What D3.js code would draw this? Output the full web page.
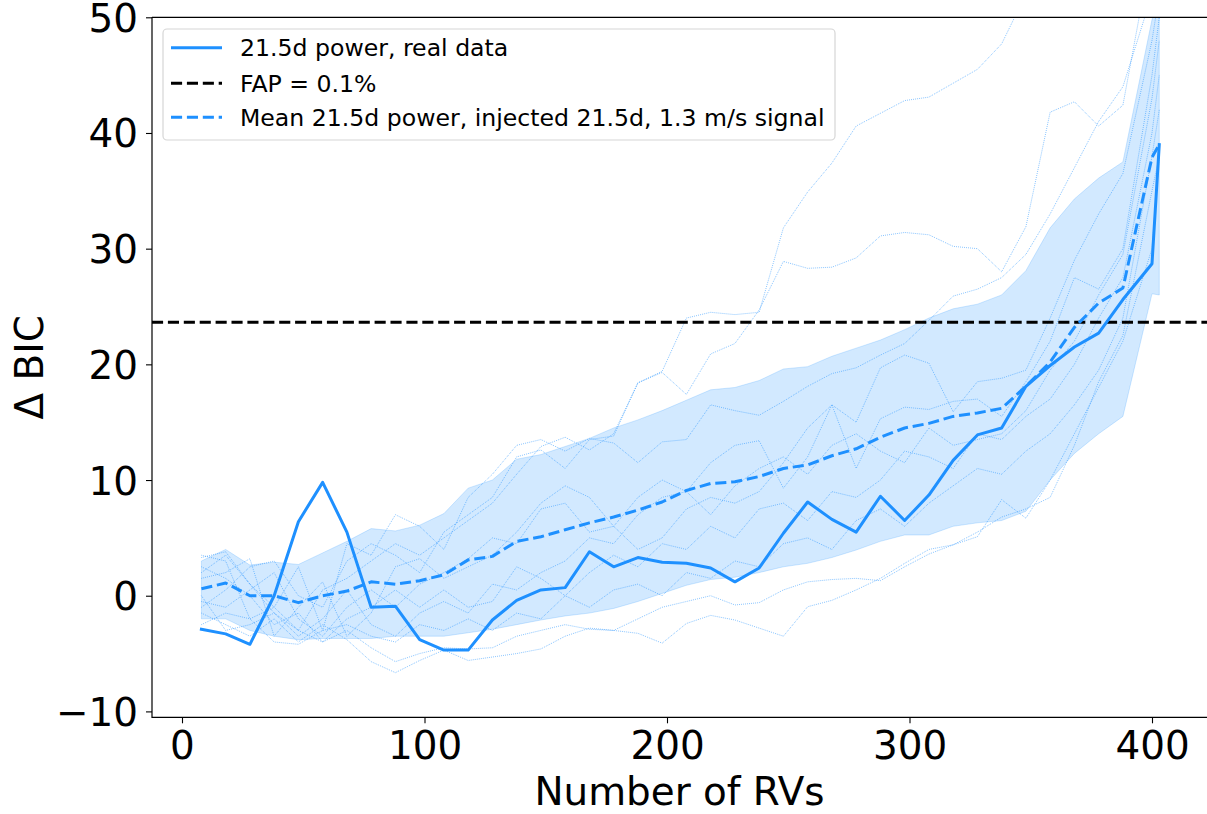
<!DOCTYPE html>
<html>
<head>
<meta charset="utf-8">
<script src="https://cdn.jsdelivr.net/npm/d3@7"></script>
<style>
  html, body { margin: 0; padding: 0; background: #fff; }
  svg { display: block; font-family: "DejaVu Sans", sans-serif; }
</style>
</head>
<body>
<svg id="chart" width="1207" height="814"></svg>
<script>
// ---------------- data ----------------
const nRVs = [8, 18, 28, 38, 48, 58, 68, 78, 88, 98, 108, 118, 128, 138, 148, 158, 168, 178, 188, 198,
  208, 218, 228, 238, 248, 258, 268, 278, 288, 298, 308, 318, 328, 338, 348, 358, 368, 378, 388, 400, 403];

const realPower = [-2.9, -3.3, -4.2, 0.0, 6.4, 9.8, 5.5, -1.0, -0.9, -3.8, -4.7, -4.7, -2.1, -0.4, 0.5, 0.7,
  3.8, 2.5, 3.3, 2.9, 2.8, 2.4, 1.2, 2.4, 5.4, 8.1, 6.6, 5.5, 8.6, 6.5, 8.7, 11.7, 13.9, 14.5, 18.1, 19.9,
  21.5, 22.7, 25.6, 28.7, 39.0];

const meanInjected = [0.6, 1.1, 0.0, 0.0, -0.6, 0.0, 0.4, 1.2, 1.0, 1.3, 1.8, 3.1, 3.4, 4.7, 5.1, 5.7,
  6.3, 6.8, 7.4, 8.1, 9.1, 9.7, 9.85, 10.3, 11.0, 11.3, 12.1, 12.7, 13.7, 14.5, 14.9, 15.5, 15.8, 16.2,
  18.1, 20.2, 23.2, 25.3, 26.6, 37.9, 39.0];

const bandUpper = [3.0, 4.0, 2.65, 2.9, 2.7, 3.7, 4.7, 5.8, 5.6, 6.1, 7.1, 9.3, 10.0, 11.8, 12.2, 12.9,
  13.6, 14.5, 15.2, 16.0, 16.9, 17.8, 18.0, 18.6, 19.6, 19.8, 20.7, 21.4, 22.1, 23.0, 24.0, 24.8, 25.2,
  26.0, 28.1, 31.8, 34.3, 36.1, 37.5, 49.8, 52.0];

const bandLower = [-2.0, -2.0, -3.0, -3.5, -3.8, -3.7, -3.7, -3.7, -3.5, -3.5, -3.5, -3.2, -2.9, -2.5,
  -2.1, -1.75, -1.5, -1.1, -0.5, 0.2, 0.9, 1.4, 1.6, 2.0, 2.5, 2.8, 3.3, 3.95, 4.7, 5.25, 5.25, 6.0, 6.3,
  6.5, 7.3, 10.0, 12.3, 14.0, 15.5, 26.1, 26.0];

// individual injected-signal realisations (thin dotted lines)
const trial1 = [2.0, 3.5, 1.0, -1.5, -3.0, 0.5, 1.5, 3.0, 4.5, 3.5, 5.0, 6.5, 8.0, 10.5, 12.9, 13.7, 12.6,
  14.0, 18.4, 19.4, 24.0, 24.5, 24.3, 24.5, 31.8, 34.9, 37.4, 40.6, 41.7, 42.8, 43.1, 44.3, 45.5, 47.7,
  52.0, 58.0, 62.0, 65.0, 68.0, 70.0, 72.0];
const trial2 = [-1.0, 0.5, 2.5, 3.0, 0.0, -1.0, 3.0, 4.5, 3.5, 2.0, 5.5, 7.0, 8.5, 12.0, 12.6, 11.0, 13.5,
  13.8, 18.4, 19.3, 17.4, 20.9, 21.8, 24.7, 28.9, 28.3, 28.4, 29.2, 31.1, 31.4, 31.2, 30.2, 30.0, 28.0,
  31.9, 41.8, 42.7, 40.6, 42.4, 56.0, 62.0];
const trial3 = [-1.5, -2.5, -3.5, -2.0, -4.0, -2.5, -3.8, -5.7, -6.65, -5.6, -4.7, -5.6, -5.3, -5.0, -4.6,
  -3.5, -2.8, -3.0, -3.25, -4.1, -2.4, -1.7, -2.1, -2.8, -3.5, -0.95, -0.4, 0.5, 1.5, 2.8, 4.0, 4.4, 5.1,
  8.3, 6.7, 10.0, 14.0, 18.0, 22.0, 30.0, 38.0];
const trial4 = [3.5, 3.0, -2.0, -1.0, -3.0, -4.0, -3.0, -4.5, -5.7, -5.0, -4.5, -4.6, -4.5, -3.5, -3.0,
  -2.5, -2.9, -3.0, -2.0, -1.0, -0.5, 0.0, -0.8, -0.6, 0.5, 1.2, 1.4, 1.5, 1.3, 2.5, 3.6, 4.4, 5.5, 6.8,
  7.5, 8.5, 13.0, 18.5, 22.5, 35.0, 38.0];
const trial5 = [3.3, 3.8, 1.0, -1.0, 2.5, -3.0, 4.5, 3.5, 7.0, 6.0, 4.0, 8.5, 10.5, 13.0, 13.5, 12.5, 13.6,
  13.2, 11.5, 13.3, 13.5, 16.5, 16.0, 15.6, 16.8, 18.1, 19.2, 19.7, 20.8, 21.8, 23.8, 25.9, 26.5, 27.5,
  29.5, 33.0, 37.0, 41.0, 44.0, 52.0, 55.0];
const trial6 = [1.5, 2.0, 3.2, -3.5, -1.0, 1.2, -3.5, -1.5, 2.5, 3.2, 1.5, 2.5, 3.5, 5.5, 8.0, 9.5, 8.5,
  6.0, 8.5, 10.0, 9.0, 11.5, 13.0, 13.4, 9.3, 12.0, 16.5, 11.0, 15.3, 16.3, 16.1, 16.8, 17.0, 15.5, 18.5,
  22.0, 27.5, 26.5, 30.0, 45.0, 50.0];
const trial7 = [-0.5, -1.0, 0.5, 2.0, -2.0, -3.5, -1.0, 0.5, -1.0, 1.0, 2.0, 3.2, 5.0, 4.5, 7.5, 8.0, 5.5,
  6.0, 4.0, 5.0, 7.5, 8.5, 8.0, 9.0, 11.5, 14.5, 16.5, 15.0, 19.7, 20.8, 20.1, 15.9, 18.5, 18.8, 19.5,
  24.0, 29.0, 33.0, 36.5, 48.0, 52.0];
const trial8 = [0.0, -3.0, -2.5, -1.5, -3.5, -2.0, 0.5, -2.5, -3.5, -1.5, -0.5, -1.5, 1.0, 0.5, 2.0, 3.0,
  5.0, 4.5, 7.0, 8.5, 9.0, 7.0, 9.5, 11.0, 12.0, 10.5, 13.0, 14.0, 12.5, 11.5, 14.5, 13.0, 13.5, 14.0,
  16.0, 19.5, 22.0, 26.0, 29.5, 43.0, 48.0];
const trial9 = [2.5, 1.5, 0.0, -2.5, -1.5, -4.0, -2.0, -1.0, 0.5, -1.0, 0.5, -1.0, -0.5, 2.5, 1.5, 0.0,
  2.0, 3.5, 2.5, 4.5, 4.0, 6.0, 5.0, 7.5, 8.0, 6.5, 9.0, 8.5, 10.0, 12.5, 12.0, 11.0, 14.0, 13.5, 15.5,
  17.0, 20.0, 24.0, 27.5, 40.0, 45.0];
const trial10 = [-2.5, -1.5, -2.0, -4.0, -4.2, -3.0, -2.5, -3.5, -4.0, -2.5, -3.0, -2.0, -3.0, -1.5, -2.0,
  0.0, -1.0, 0.5, 1.0, 0.0, 2.0, 1.5, 3.0, 2.5, 4.5, 5.0, 4.0, 6.5, 7.5, 6.0, 8.0, 9.5, 11.0, 10.5, 12.5,
  14.0, 16.5, 19.5, 24.0, 38.0, 42.0];
const trials = [trial1, trial2, trial3, trial4, trial5, trial6, trial7, trial8, trial9, trial10];

const fapLevel = 23.65;
const xTicks = [0, 100, 200, 300, 400];
const yTicks = [-10, 0, 10, 20, 30, 40, 50];
const legendLabels = ["21.5d power, real data", "FAP = 0.1%", "Mean 21.5d power, injected 21.5d, 1.3 m/s signal"];

// ---------------- layout ----------------
const svg = d3.select("#chart");
const L = 152, R = 1207, T = 17.3, B = 717.3;
const blue = "#1e90ff";
const bigFont = "38.9px";

const x = d3.scaleLinear().domain([-12.37, 422.68]).range([L, R]);
const y = d3.scaleLinear().domain([-10.51, 50]).range([B, T]);

svg.append("defs").append("clipPath").attr("id", "clip")
  .append("rect").attr("x", L).attr("y", T).attr("width", R - L).attr("height", B - T);

const plot = svg.append("g").attr("clip-path", "url(#clip)");

// band
const area = d3.area().x((d, i) => x(nRVs[i])).y0((d, i) => y(bandLower[i])).y1((d, i) => y(bandUpper[i]));
plot.append("path").datum(bandUpper).attr("d", area)
  .attr("fill", blue).attr("fill-opacity", 0.2)
  .attr("stroke", blue).attr("stroke-opacity", 0.2).attr("stroke-width", 1);

// thin trials
const line = d3.line().x((d, i) => x(nRVs[i])).y(d => y(d));
trials.forEach(t => {
  plot.append("path").datum(t).attr("d", line)
    .attr("fill", "none").attr("stroke", blue).attr("stroke-width", 0.8)
    .attr("stroke-opacity", 0.8).attr("stroke-dasharray", "0.8,1.2");
});

// FAP line
plot.append("line").attr("x1", L).attr("x2", R).attr("y1", y(fapLevel)).attr("y2", y(fapLevel))
  .attr("stroke", "#000").attr("stroke-width", 3).attr("stroke-dasharray", "11.1,4.8");

// mean line
plot.append("path").datum(meanInjected).attr("d", line)
  .attr("fill", "none").attr("stroke", blue).attr("stroke-width", 3)
  .attr("stroke-dasharray", "11.1,4.8").attr("stroke-linejoin", "round");

// real data
plot.append("path").datum(realPower).attr("d", line)
  .attr("fill", "none").attr("stroke", blue).attr("stroke-width", 3)
  .attr("stroke-linejoin", "round").attr("stroke-linecap", "square");

// axes
const xAxis = svg.append("g").attr("transform", `translate(0,${B})`)
  .call(d3.axisBottom(x).tickValues(xTicks).tickSize(6).tickPadding(8).tickFormat(d3.format("d")));
const yAxis = svg.append("g").attr("transform", `translate(${L},0)`)
  .call(d3.axisLeft(y).tickValues(yTicks).tickSize(6).tickPadding(8)
    .tickFormat(d => d < 0 ? "\u2212" + Math.abs(d) : String(d)));
[xAxis, yAxis].forEach(a => {
  a.select(".domain").remove();
  a.selectAll(".tick line").attr("stroke", "#000").attr("stroke-width", 1.1);
  a.selectAll(".tick text").attr("fill", "#000").style("font-size", bigFont)
    .style("font-family", "DejaVu Sans, sans-serif");
});
xAxis.selectAll(".tick text").attr("dy", "0.71em").attr("y", 14);
yAxis.selectAll(".tick text").attr("x", -14).attr("dy", "0.36em");

// spines
svg.append("path").attr("d", `M${L},${T}H${R}M${L},${T}V${B}H${R}`)
  .attr("fill", "none").attr("stroke", "#000").attr("stroke-width", 1.2);

// axis labels
svg.append("text").attr("x", (L + R) / 2).attr("y", 805).attr("text-anchor", "middle")
  .style("font-size", bigFont).text("Number of RVs");
svg.append("text").attr("transform", `translate(43,${(T + B) / 2}) rotate(-90)`)
  .attr("text-anchor", "middle").style("font-size", bigFont).text("\u0394 BIC");

// legend
const lg = svg.append("g");
lg.append("rect").attr("x", 163).attr("y", 29).attr("width", 672).attr("height", 111).attr("rx", 4)
  .attr("fill", "#fff").attr("fill-opacity", 0.8).attr("stroke", "#d6d6d6").attr("stroke-width", 1.2);
const rows = [47.7, 83.3, 117.3];
const styles = [
  { c: blue, dash: null },
  { c: "#000", dash: "11.1,4.8" },
  { c: blue, dash: "11.1,4.8" }
];
legendLabels.forEach((lab, i) => {
  const l = lg.append("line").attr("x1", 171).attr("x2", 222).attr("y1", rows[i]).attr("y2", rows[i])
    .attr("stroke", styles[i].c).attr("stroke-width", 3);
  if (styles[i].dash) l.attr("stroke-dasharray", styles[i].dash);
  lg.append("text").attr("x", 240).attr("y", rows[i] + 8.6).style("font-size", "23.6px").text(lab);
});
</script>
</body>
</html>
